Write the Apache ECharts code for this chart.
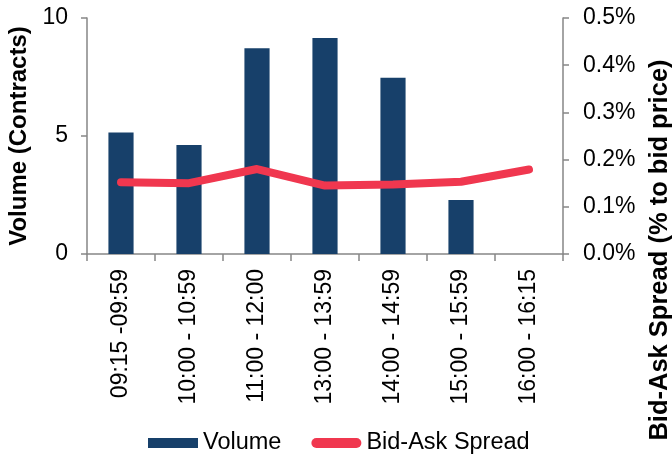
<!DOCTYPE html>
<html>
<head>
<meta charset="utf-8">
<script src="https://cdn.jsdelivr.net/npm/echarts@6/dist/echarts.min.js"></script>
<style>
  html, body { margin: 0; padding: 0; background: #fff; }
  #chart { width: 672px; height: 454px; }
</style>
</head>
<body>
<div id="chart"></div>
<script>
var categories = ['09:15 -09:59', '10:00 - 10:59', '11:00 - 12:00', '13:00 - 13:59', '14:00 - 14:59', '15:00 - 15:59', '16:00 - 16:15'];
var volume = [5.15, 4.62, 8.72, 9.15, 7.47, 2.29, 0];
var spread = [0.152, 0.150, 0.180, 0.145, 0.147, 0.153, 0.179];   // in %
var volumeTicks = [0, 5, 10];
var spreadTicks = [0, 0.1, 0.2, 0.3, 0.4, 0.5];

var axisGrey = '#868686';
var font = 'Liberation Sans, Arial, sans-serif';

var myChart = echarts.init(document.getElementById('chart'), null, { renderer: 'canvas' });

var option = {
    backgroundColor: '#fff',
    animation: false,
    textStyle: { fontFamily: font },
    grid: { left: 87, right: 109, top: 18, bottom: 200, containLabel: false, outerBoundsMode: 'none' },
    // right axis title sits lower than the plot middle in the original, so draw it as free text
    graphic: [
        {
            type: 'text',
            x: 660,
            y: 250,
            rotation: Math.PI / 2,
            style: {
                text: 'Bid-Ask Spread (% to bid price)',
                fontSize: 25.5,
                fontWeight: 'bold',
                fontFamily: font,
                fill: '#000',
                align: 'center',
                verticalAlign: 'middle'
            }
        }
    ],
    legend: {
        top: 431,
        left: 148,
        padding: 0,
        itemWidth: 50,
        itemHeight: 10,
        itemGap: 30,
        textStyle: { fontSize: 23.5, color: '#000', fontFamily: font },
        data: [
            { name: 'Volume', icon: 'rect' },
            { name: 'Bid-Ask Spread', icon: 'path://M5,0L45,0A5,5,0,0,1,45,10L5,10A5,5,0,0,1,5,0Z' }
        ]
    },
    xAxis: {
        type: 'category',
        data: categories,
        axisLine: { lineStyle: { color: axisGrey, width: 1.5 } },
        axisTick: { show: true, length: 7, lineStyle: { color: axisGrey, width: 1.5 } },
        axisLabel: { rotate: 90, fontSize: 23, color: '#000', margin: 15, interval: 0 }
    },
    yAxis: [
        {
            type: 'value',
            min: volumeTicks[0],
            max: volumeTicks[volumeTicks.length - 1],
            interval: 5,
            name: 'Volume (Contracts)',
            nameLocation: 'middle',
            nameGap: 55,
            nameTextStyle: { fontSize: 24, fontWeight: 'bold', color: '#000' },
            axisLine: { show: true, lineStyle: { color: axisGrey, width: 1.5 } },
            axisTick: { show: true, length: 6, lineStyle: { color: axisGrey, width: 1.5 } },
            axisLabel: { fontSize: 23, color: '#000', margin: 19 },
            splitLine: { show: false }
        },
        {
            type: 'value',
            position: 'right',
            min: spreadTicks[0],
            max: spreadTicks[spreadTicks.length - 1],
            interval: 0.1,
            axisLine: { show: true, lineStyle: { color: axisGrey, width: 1.5 } },
            axisTick: { show: true, length: 6, lineStyle: { color: axisGrey, width: 1.5 } },
            axisLabel: {
                fontSize: 23, color: '#000', margin: 20,
                formatter: function (v) { return v.toFixed(1) + '%'; }
            },
            splitLine: { show: false }
        }
    ],
    series: [
        {
            name: 'Volume',
            type: 'bar',
            yAxisIndex: 0,
            barWidth: '37%',
            itemStyle: { color: '#17406A' },
            data: volume
        },
        {
            name: 'Bid-Ask Spread',
            type: 'line',
            yAxisIndex: 1,
            symbol: 'none',
            smooth: false,
            lineStyle: { color: '#F0374F', width: 8, cap: 'round', join: 'round' },
            itemStyle: { color: '#F0374F' },
            data: spread
        }
    ]
};

myChart.setOption(option);
</script>
</body>
</html>
